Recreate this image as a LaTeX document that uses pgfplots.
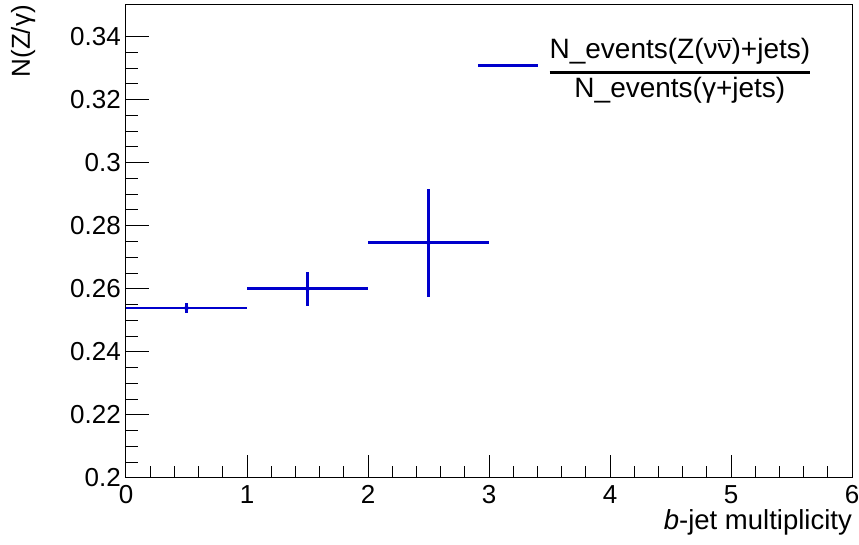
\documentclass[border=0pt]{standalone}
\usepackage{amsmath}
\usepackage{fontspec}
\setmainfont{Liberation Sans}
\usepackage{pgfplots}
\pgfplotsset{compat=1.18}
\definecolor{rootblue}{RGB}{0,0,204}
\newcommand\legfrac[2]{$\vcenter{\offinterlineskip\halign{\hfil##\hfil\cr #1\cr\noalign{\kern 6.5pt}\noalign{\hrule height 3pt}\noalign{\kern 3pt}#2\cr}}$}
\begin{document}
\fontsize{26}{31}\selectfont
\begin{tikzpicture}
\useasboundingbox (-126pt,-67pt) rectangle (733pt,478pt);
\begin{axis}[
  at={(0pt,0pt)}, anchor=south west,
  scale only axis, width=726pt, height=473pt,
  xmin=0, xmax=6, ymin=0.2, ymax=0.35,
  xtick={0,1,2,3,4,5,6},
  ytick={0.2,0.22,0.24,0.26,0.28,0.3,0.32,0.34},
  minor x tick num=4, minor y tick num=3,
  xtick pos=bottom, ytick pos=left,
  tick align=inside,
  major tick length=23pt, minor tick length=12pt,
  every tick/.style={line width=1pt, black},
  axis line style={line width=1pt},
  /pgf/number format/assume math mode=true,
  ticklabel style={font=\fontsize{26}{31}\selectfont},
  xticklabel style={text depth=0pt, inner ysep=4pt, yshift=-3pt},
  yticklabel style={/pgf/number format/fixed, /pgf/number format/precision=2, inner xsep=5pt},
  legend image code/.code={\draw[line width=2.5pt, rootblue] (0pt,-6pt) -- (60pt,-6pt);},
  legend style={draw=none, fill=none, at={(axis cs:2.9,0.3327)}, anchor=west, inner sep=0pt,
    font=\fontsize{28}{33}\selectfont, /tikz/every odd column/.style={column sep=8pt}},
]
\addplot[rootblue, only marks, mark=none,
  error bars/.cd, x dir=both, x explicit, y dir=both, y explicit, error mark=none,
  error bar style={line width=2.7pt, rootblue}]
  coordinates {
  (0.5,0.2539) +- (0.5,0.0017)
  (1.5,0.2600) +- (0.5,0.0053)
  (2.5,0.2746) +- (0.5,0.0172)
  };
\addlegendentry{\legfrac{N\_events(Z(ν$\overline{\text{ν}}$)+jets)}{N\_events(γ+jets)}}
\end{axis}
\coordinate (yl) at (-96pt,473pt);
\node[rotate=90, anchor=base east, inner sep=0pt] at (yl) {N(Z/γ)};
\node[anchor=base east, inner sep=0pt, font=\fontsize{27.5}{32}\selectfont] at (726pt,-52pt) {\textit{b}-jet multiplicity};
\end{tikzpicture}
\end{document}
